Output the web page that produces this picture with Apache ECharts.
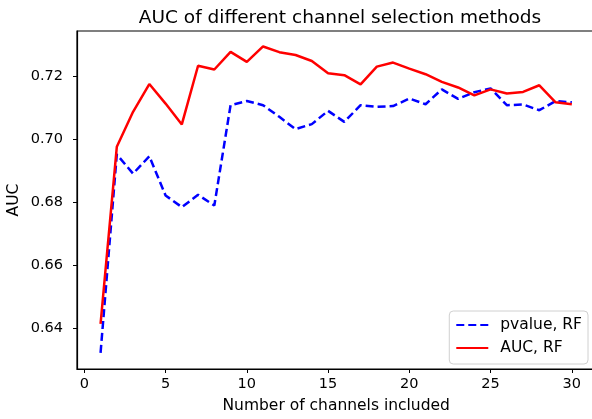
<!DOCTYPE html>
<html>
<head>
<meta charset="utf-8">
<script src="https://cdn.jsdelivr.net/npm/echarts@6/dist/echarts.min.js"></script>
<style>
    html, body { margin: 0; padding: 0; background: #fff; }
    #chart { width: 592px; height: 419px; }
</style>
</head>
<body>
<div id="chart"></div>
<script>
// 通道数 1..30
const channels = [1, 2, 3, 4, 5, 6, 7, 8, 9, 10, 11, 12, 13, 14, 15, 16, 17, 18, 19, 20, 21, 22, 23, 24, 25, 26, 27, 28, 29, 30];
const pvalueRF = [0.6323, 0.6952, 0.6891, 0.6946, 0.6822, 0.6785, 0.6824, 0.6790, 0.7108, 0.7121,
    0.7108, 0.7071, 0.7032, 0.7048, 0.7090, 0.7055, 0.7108, 0.7103, 0.7105, 0.7129,
    0.7111, 0.7158, 0.7128, 0.7149, 0.7161, 0.7108, 0.7110, 0.7092, 0.7121, 0.7117];
const aucRF = [0.6415, 0.6976, 0.7087, 0.7175, 0.7113, 0.7047, 0.7233, 0.7221, 0.7277, 0.7245,
    0.7294, 0.7276, 0.7267, 0.7248, 0.7209, 0.7203, 0.7174, 0.7230, 0.7243, 0.7224,
    0.7206, 0.7182, 0.7164, 0.7139, 0.7158, 0.7145, 0.7150, 0.7171, 0.7117, 0.7111];
const xTicks = [0, 5, 10, 15, 20, 25, 30];
const yTicks = [0.64, 0.66, 0.68, 0.70, 0.72];

const font = 'DejaVu Sans, sans-serif';

const toPairs = (ys) => channels.map((x, i) => [x, ys[i]]);

const option = {
    animation: false,
    backgroundColor: '#fff',
    title: {
        text: 'AUC of different channel selection methods',
        left: 335,
        textAlign: 'center',
        top: 4,
        textStyle: { fontFamily: font, fontSize: 18.5, fontWeight: 'normal', color: '#000' }
    },
    // 右边框在画面外（与原图一致）
    grid: {
        left: 77,
        top: 31,
        width: 518.4,
        bottom: 50,
        containLabel: false,
        outerBoundsMode: 'none',
        show: true,
        borderColor: '#000',
        borderWidth: 1.2
    },
    legend: {
        right: 4,
        top: 311,
        orient: 'vertical',
        itemWidth: 32,
        itemHeight: 14,
        itemGap: 7,
        padding: [6, 6, 8, 6],
        borderColor: '#d0d0d0',
        borderWidth: 1,
        borderRadius: 4,
        backgroundColor: '#fff',
        itemStyle: { color: 'rgba(0,0,0,0)', borderWidth: 0, opacity: 0 },
        textStyle: { fontFamily: font, fontSize: 15.5, lineHeight: 14, color: '#000', padding: [0, 0, 0, 7] },
        data: ['pvalue, RF', 'AUC, RF']
    },
    xAxis: {
        type: 'value',
        min: -0.45,
        max: 31.45,
        name: 'Number of channels included',
        nameLocation: 'middle',
        nameGap: 29,
        nameTextStyle: { fontFamily: font, fontSize: 15.5, color: '#000' },
        splitLine: { show: false },
        axisLine: { show: true, onZero: false, lineStyle: { color: '#000', width: 1.2 } },
        axisTick: { show: true, length: 4, customValues: xTicks, lineStyle: { color: '#000' } },
        axisLabel: { customValues: xTicks, fontFamily: font, fontSize: 14.5, color: '#000', margin: 8 }
    },
    yAxis: {
        type: 'value',
        min: 0.6272,
        max: 0.7343,
        name: 'AUC',
        nameLocation: 'middle',
        nameGap: 55,
        nameMoveOverlap: false,
        nameTextStyle: { fontFamily: font, fontSize: 15.5, color: '#000' },
        splitLine: { show: false },
        axisLine: { show: true, onZero: false, lineStyle: { color: '#000', width: 1.2 } },
        axisTick: { show: true, length: 4, customValues: yTicks, lineStyle: { color: '#000' } },
        axisLabel: {
            customValues: yTicks,
            fontFamily: font, fontSize: 14.5, color: '#000', margin: 14,
            formatter: (v) => v.toFixed(2)
        }
    },
    series: [
        {
            name: 'pvalue, RF',
            type: 'line',
            data: toPairs(pvalueRF),
            symbol: 'none',
            color: '#0000ff',
            lineStyle: { width: 2.5, type: [8, 4], color: '#0000ff' }
        },
        {
            name: 'AUC, RF',
            type: 'line',
            data: toPairs(aucRF),
            symbol: 'none',
            color: '#ff0000',
            lineStyle: { width: 2.5, color: '#ff0000' }
        }
    ]
};

const myChart = echarts.init(document.getElementById('chart'), null, { renderer: 'canvas' });
myChart.setOption(option);
</script>
</body>
</html>
